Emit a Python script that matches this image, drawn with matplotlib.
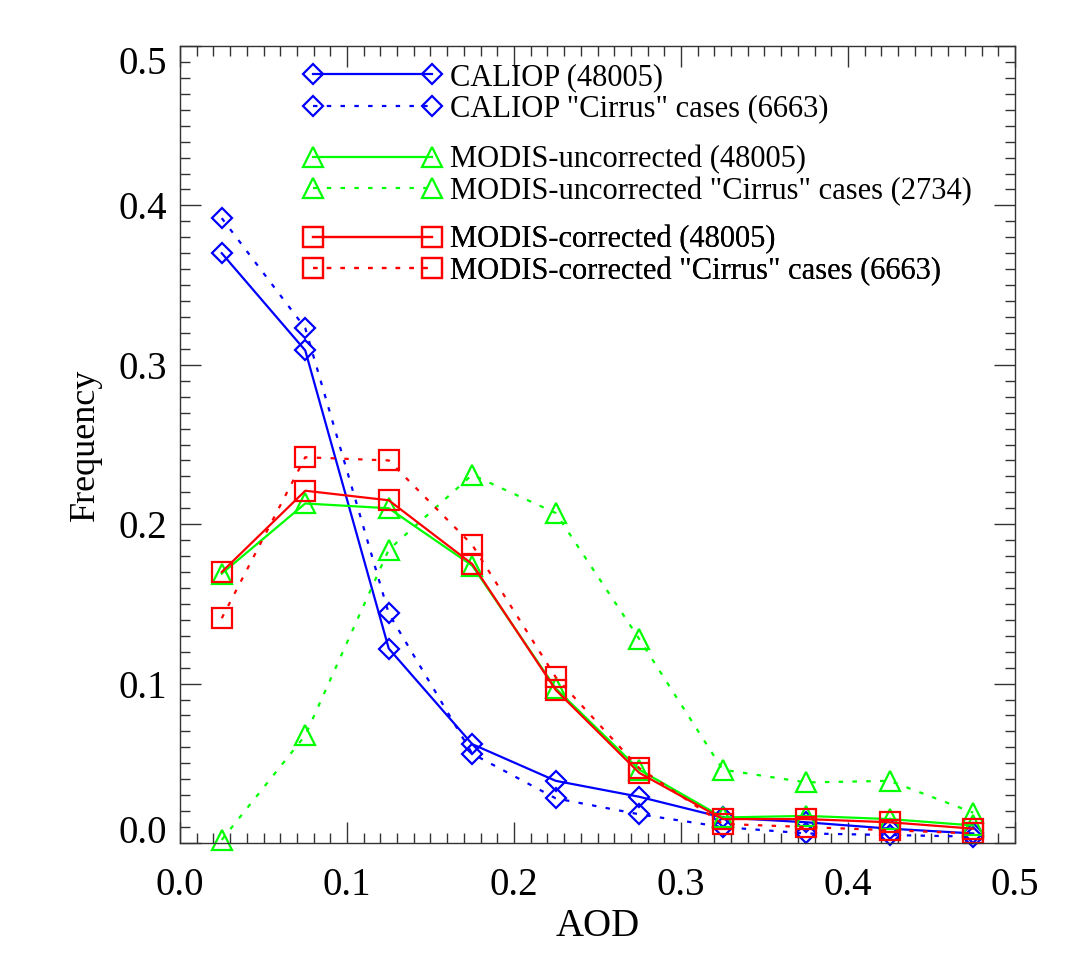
import numpy as np
import matplotlib
matplotlib.use("Agg")
import matplotlib.pyplot as plt
from matplotlib.ticker import MultipleLocator

plt.rcParams['font.family'] = ['Liberation Serif', 'DejaVu Serif']

# AOD bin centres
aod = [0.025, 0.075, 0.125, 0.175, 0.225, 0.275, 0.325, 0.375, 0.425, 0.475]

caliop_all = [0.370, 0.309, 0.122, 0.062, 0.039, 0.029, 0.016, 0.013, 0.009, 0.006]
caliop_cirrus = [0.392, 0.323, 0.144, 0.056, 0.028, 0.018, 0.010, 0.006, 0.005, 0.004]
modis_unc_all = [0.169, 0.213, 0.210, 0.174, 0.097, 0.046, 0.016, 0.017, 0.015, 0.011]
modis_unc_cirrus = [0.002, 0.0675, 0.184, 0.231, 0.207, 0.128, 0.046, 0.038, 0.039, 0.019]
modis_cor_all = [0.170, 0.221, 0.215, 0.175, 0.096, 0.044, 0.015, 0.015, 0.013, 0.009]
modis_cor_cirrus = [0.141, 0.242, 0.240, 0.187, 0.104, 0.047, 0.012, 0.010, 0.008, 0.006]

labels = [
    'CALIOP (48005)',
    'CALIOP "Cirrus" cases (6663)',
    'MODIS-uncorrected (48005)',
    'MODIS-uncorrected "Cirrus" cases (2734)',
    'MODIS-corrected (48005)',
    'MODIS-corrected "Cirrus" cases (6663)',
]

BLUE = '#0000ff'
GREEN = '#00ff00'
RED = '#ff0000'
LW = 1.6
DOT = (2.0, 4.2)

fig = plt.figure(figsize=(10.72, 9.6), dpi=100)
ax = fig.add_axes([180 / 1072, 1 - 843 / 960, 835 / 1072, 797 / 960])

series = [
    (caliop_all, BLUE, 'D', 10, None, labels[0]),
    (caliop_cirrus, BLUE, 'D', 10, DOT, labels[1]),
    (modis_unc_all, GREEN, '^', 14, None, labels[2]),
    (modis_unc_cirrus, GREEN, '^', 14, DOT, labels[3]),
    (modis_cor_all, RED, 's', 14, None, labels[4]),
    (modis_cor_cirrus, RED, 's', 14, DOT, labels[5]),
]

handles = []
for vals, col, mk, ms, dash, lab in series:
    kw = dict(color=col, lw=LW, marker=mk, ms=ms, mfc='none', mec=col,
              mew=LW, label=lab, clip_on=False)
    if dash is not None:
        kw['dashes'] = dash
    h, = ax.plot(aod, vals, **kw)
    handles.append(h)

ax.set_xlim(0.0, 0.5)
ax.set_ylim(0.0, 0.5)
ax.xaxis.set_major_locator(MultipleLocator(0.1))
ax.xaxis.set_minor_locator(MultipleLocator(0.01))
ax.yaxis.set_major_locator(MultipleLocator(0.1))
ax.yaxis.set_minor_locator(MultipleLocator(0.01))
ax.tick_params(which='both', direction='in', top=True, right=True,
               labelsize=28, width=1.0, color='#333333')
ax.tick_params(which='major', length=15)
ax.tick_params(which='minor', length=7)
ax.tick_params(axis='x', which='major', pad=17)
ax.tick_params(axis='y', which='major', pad=9)
ax.xaxis.set_major_formatter(plt.FormatStrFormatter('%.1f'))
ax.yaxis.set_major_formatter(plt.FormatStrFormatter('%.1f'))
for s in ax.spines.values():
    s.set_linewidth(1.0)
    s.set_color('#333333')

# IDL keeps the end labels inside the axis span
fig.canvas.draw()
for tick in ax.yaxis.get_major_ticks():
    loc = tick.get_loc()
    if abs(loc - 0.0) < 1e-9:
        tick.label1.set_va('baseline')
    elif abs(loc - 0.5) < 1e-9:
        tick.label1.set_va('top')

ax.set_xlabel('AOD', fontsize=28, labelpad=3)
ax.set_ylabel('Frequency', fontsize=26, labelpad=12)

tops = [63, 145, 225]
for i, top in enumerate(tops):
    leg = ax.legend(handles=handles[2 * i:2 * i + 2], loc='upper left',
                    bbox_to_anchor=(304 / 1072, 1 - top / 960),
                    bbox_transform=fig.transFigure, frameon=False,
                    numpoints=2, handlelength=4.5, handletextpad=0.28,
                    borderpad=0, borderaxespad=0, labelspacing=0.08,
                    markerscale=1.0, fontsize=22)
    ax.add_artist(leg)

fig.savefig('out.png', dpi=100)
